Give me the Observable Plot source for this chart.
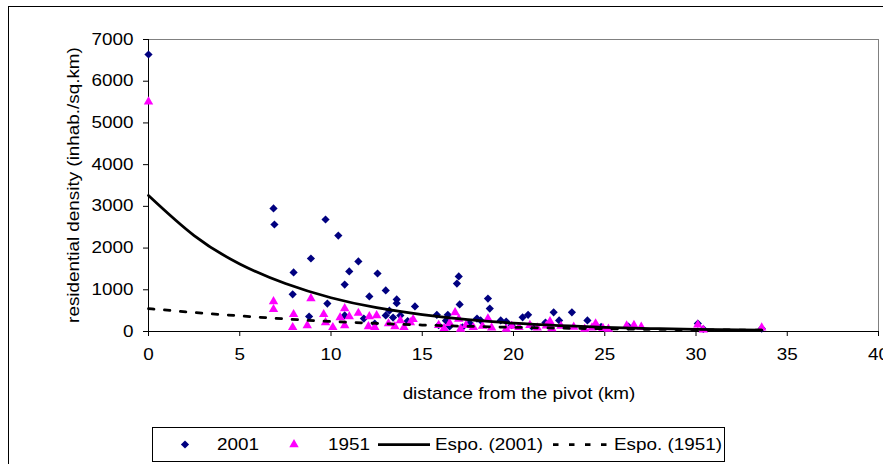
<!DOCTYPE html>
<html>
<head>
<meta charset="utf-8">
<script src="https://cdn.jsdelivr.net/npm/d3@7"></script>
<script src="https://cdn.jsdelivr.net/npm/@observablehq/plot@0.6"></script>
<style>
  html, body { margin: 0; padding: 0; background: #fff; overflow: hidden; }
  #wrap { position: relative; width: 883px; height: 464px; }
  #border { position: absolute; left: 8px; top: 6px; width: 900px; height: 470px; border: 1px solid #000; box-sizing: border-box; }
  #chart { position: absolute; left: 0; top: 0; }
  #legend { position: absolute; left: 0; top: 420px; }
</style>
</head>
<body>
<div id="wrap">
  <div id="border"></div>
  <div id="chart"></div>
  <div id="legend"></div>
</div>
<script>
// ---- data ----
const xTicks = [0, 5, 10, 15, 20, 25, 30, 35, 40];
const yTicks = [0, 1000, 2000, 3000, 4000, 5000, 6000, 7000];
const xTitle = "distance from the pivot (km)";
const yTitle = "residential density (inhab./sq.km)";
const legendLabels = ["2001", "1951", "Espo. (2001)", "Espo. (1951)"];

const dist2001 = [0, 6.85, 6.9, 7.9, 7.95, 8.8, 8.9, 9.7, 9.8, 10.4, 10.75, 10.75, 11.0, 11.5, 11.8, 12.1, 12.55, 12.4,
  13.0, 13.0, 13.2, 13.4, 13.6, 13.6, 13.8, 14.2, 14.6, 15.8, 15.9, 16.3, 16.4, 16.5, 16.9, 17.0, 17.05, 17.2, 17.6,
  18.0, 18.2, 18.6, 18.7, 19.3, 19.6, 19.9, 20.5, 20.8, 21.0, 21.75, 22.2, 22.5, 23.2, 24.05, 24.8, 26.3, 30.1, 30.4, 33.6];
const dens2001 = [6640, 2950, 2565, 890, 1415, 360, 1750, 2685, 670, 2300, 1125, 385, 1440, 1680, 310, 840, 1390, 190,
  985, 385, 500, 335, 770, 680, 385, 250, 600, 400, 150, 260, 400, 120, 1150, 1320, 650, 100, 200,
  310, 265, 790, 550, 265, 240, 150, 340, 400, 120, 215, 460, 265, 460, 265, 110, 120, 190, 60, 70];

const dist1951 = [0, 6.85, 6.85, 7.95, 7.9, 8.7, 8.9, 9.6, 9.7, 10.1, 10.5, 10.75, 10.75, 11.0, 11.5, 12.05, 12.1, 12.4,
  12.5, 13.15, 13.5, 13.8, 14.0, 14.35, 14.5, 15.9, 16.2, 16.5, 16.8, 17.0, 17.1, 17.4, 17.8, 18.3, 18.6, 18.8, 19.6,
  19.9, 20.3, 20.9, 21.3, 21.8, 22.0, 22.1, 22.6, 23.3, 23.9, 24.3, 24.5, 24.9, 25.2, 26.2, 26.6, 27.0, 30.1, 30.4, 33.6];
const dens1951 = [5510, 720, 530, 410, 100, 145, 790, 410, 215, 100, 335, 550, 145, 360, 440, 120, 360, 100,
  385, 190, 120, 265, 100, 215, 290, 150, 80, 200, 455, 300, 60, 150, 100, 130, 310, 90, 60,
  130, 100, 150, 90, 140, 240, 70, 130, 110, 60, 90, 190, 80, 60, 140, 150, 110, 160, 40, 90];

// exponential trend lines
const trendDist = [0, 2.5, 5, 7.5, 10, 12.5, 15, 17.5, 20, 22.5, 25, 27.5, 30, 33.6];
const trend2001 = [3260, 2300, 1620, 1150, 810, 570, 405, 285, 200, 143, 100, 71, 50, 31];
const trend1951 = [550, 455, 375, 300, 240, 195, 155, 125, 100, 80, 65, 52, 42, 32];

// ---- build tables ----
const pts2001 = dist2001.map((d, i) => ({x: d, y: dens2001[i]}));
const pts1951 = dist1951.map((d, i) => ({x: d, y: dens1951[i]}));
const t2001 = trendDist.map((d, i) => ({x: d, y: trend2001[i]}));
const t1951 = trendDist.map((d, i) => ({x: d, y: trend1951[i]}));

const NAVY = "#000080", MAGENTA = "#FF00FF";
const FONT = "'Liberation Sans', Arial, Helvetica, sans-serif";
const SX = 1.18; // horizontal text stretch seen in the reference
const DASH = "5.5,10.5";
const R_DIAMOND = 3.7, R_TRIANGLE = 4.5;

const plot = Plot.plot({
  width: 883, height: 420,
  marginLeft: 148, marginRight: 5, marginTop: 39, marginBottom: 89,
  x: {domain: [0, 40]},
  y: {domain: [0, 7000]},
  style: {fontFamily: FONT, fontSize: "16px", color: "#000", background: "transparent", overflow: "visible"},
  marks: [
    Plot.ruleY([7000], {stroke: "#808080", strokeWidth: 1}),
    Plot.ruleX([40], {stroke: "#808080", strokeWidth: 1}),
    Plot.axisX({ticks: xTicks, tickSize: 5, tickPadding: 12, label: null, tickFormat: d => String(d), stroke: "#000", strokeOpacity: 1}),
    Plot.axisY({ticks: yTicks, tickSize: 5, tickPadding: 10, label: null, tickFormat: d => String(d), stroke: "#000", strokeOpacity: 1}),
    Plot.ruleX([0], {stroke: "#000", strokeWidth: 1}),
    Plot.ruleY([0], {stroke: "#000", strokeWidth: 1}),
    Plot.dot(pts2001, {x: "x", y: "y", symbol: "diamond2", r: R_DIAMOND, fill: NAVY, stroke: "none"}),
    Plot.dot(pts1951, {x: "x", y: "y", symbol: "triangle2", r: R_TRIANGLE, fill: MAGENTA, stroke: "none"}),
    Plot.line(t2001, {x: "x", y: "y", stroke: "#000", strokeWidth: 2.75, curve: "natural"}),
    Plot.line(t1951, {x: "x", y: "y", stroke: "#000", strokeWidth: 2.75, curve: "natural", strokeDasharray: DASH})
  ]
});
document.getElementById("chart").appendChild(plot);

const svg = d3.select(plot);
// axis titles
svg.append("text")
  .attr("transform", "translate(519,393)")
  .attr("text-anchor", "middle").attr("dy", "0.35em")
  .attr("font-family", FONT).attr("font-size", 16).text(xTitle);
svg.append("text")
  .attr("transform", "translate(73,185) rotate(-90)")
  .attr("text-anchor", "middle").attr("dy", "0.35em")
  .attr("font-family", FONT).attr("font-size", 16).text(yTitle);

function stretch(root) {
  root.querySelectorAll("text").forEach(t => {
    const x = parseFloat(t.getAttribute("x")) || 0;
    const y = parseFloat(t.getAttribute("y")) || 0;
    const tr = t.getAttribute("transform") || "";
    t.setAttribute("transform", `${tr} translate(${x},${y}) scale(${SX},1) translate(${-x},${-y})`);
  });
}
stretch(plot);

// ---- legend ----
const leg = d3.select("#legend").append("svg").attr("width", 883).attr("height", 44);
leg.append("rect").attr("x", 152.5).attr("y", 7.5).attr("width", 572).attr("height", 34)
  .attr("fill", "#fff").attr("stroke", "#000");
const cy = 24.5;
leg.append("path").attr("transform", `translate(185,${cy})`)
  .attr("d", d3.symbol(d3.symbolDiamond2, Math.PI * R_DIAMOND * R_DIAMOND)()).attr("fill", NAVY);
leg.append("path").attr("transform", `translate(294,${cy})`)
  .attr("d", d3.symbol(d3.symbolTriangle2, Math.PI * R_TRIANGLE * R_TRIANGLE)()).attr("fill", MAGENTA);
leg.append("line").attr("x1", 378).attr("x2", 430).attr("y1", cy).attr("y2", cy)
  .attr("stroke", "#000").attr("stroke-width", 2.75);
leg.append("line").attr("x1", 553).attr("x2", 611).attr("y1", cy).attr("y2", cy)
  .attr("stroke", "#000").attr("stroke-width", 2.75).attr("stroke-dasharray", DASH);
const legX = [217, 328, 435, 614];
legendLabels.forEach((lab, i) => {
  leg.append("text").attr("x", legX[i]).attr("y", cy).attr("dy", "0.35em")
    .attr("font-family", FONT).attr("font-size", 16).text(lab);
});
stretch(leg.node());
</script>
</body>
</html>
